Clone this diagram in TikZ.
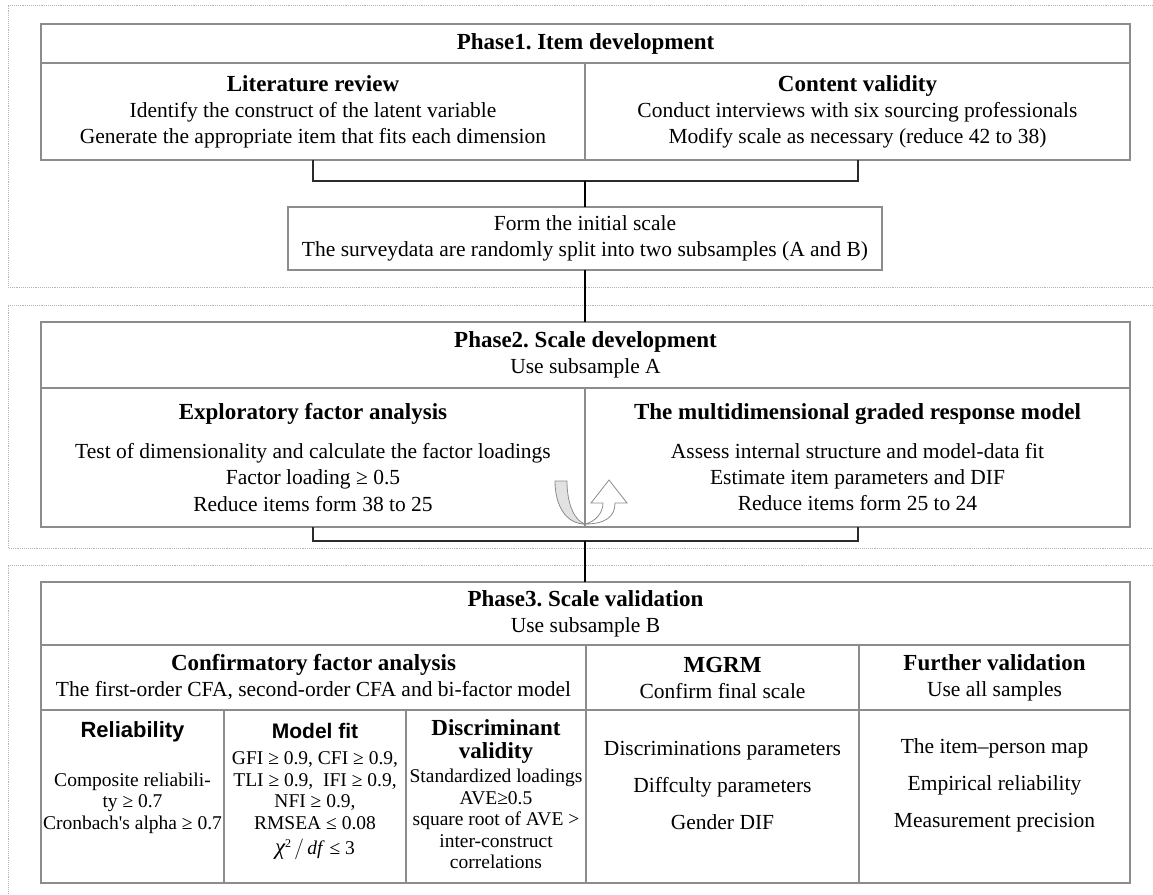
\documentclass[tikz,border=0pt]{standalone}
\usepackage{fontspec}
\setmainfont{Liberation Serif}
\newfontfamily\arialfont{Liberation Sans}
\usetikzlibrary{positioning,calc}
\definecolor{frameGray}{HTML}{8C8C8C}
\definecolor{panelGray}{HTML}{B4B4B4}
\definecolor{linkInk}{HTML}{2B2B2B}
\definecolor{arrowFill}{HTML}{E2E2E2}
\newcommand{\cellhead}[1]{{\fontsize{23}{26}\selectfont\bfseries #1}}

\begin{document}
\frenchspacing
\begin{tikzpicture}[x=1pt,y=-1pt,node distance=0pt,font=\fontsize{21.5}{26}\selectfont]
    \tikzset{cell/.style={draw=frameGray,line width=1.3pt,outer sep=0pt,inner sep=0pt,align=center},
      panel/.style={draw=panelGray,line width=0.9pt,densely dotted},
      link/.style={draw=linkInk,line width=2pt},
      conn/.style={draw=black,line width=1.4pt},
      subtext/.style={font=\fontsize{19.5}{21.5}\selectfont,align=center,inner sep=0pt}}
    \useasboundingbox (0,0) rectangle (1153,894);
    \clip (0,0) rectangle (1153,894);
    % dotted phase panels
    \draw[panel] (1170,5) -| (8,287) -- (1170,287);
    \draw[panel] (1170,305) -| (8,548) -- (1170,548);
    \draw[panel] (1170,565) -| (8,910);
    % phase 1
    \node[cell,anchor=north west,minimum width=1089,minimum height=39] (p1) at (41,24) {\cellhead{Phase1. Item development}};
    \node[cell,anchor=north west,minimum width=544,minimum height=97] (lit) at (p1.south west)
      {\cellhead{Literature review}\\Identify the construct of the latent variable\\Generate the appropriate item that fits each dimension};
    \node[cell,minimum width=545,minimum height=97,right=of lit] (cont)
      {\cellhead{Content validity}\\Conduct interviews with six sourcing professionals\\Modify scale as necessary (reduce 42 to 38)};
    \coordinate (split1) at ($(lit.south east)+(0,21)$);
    \node[cell,minimum width=594,minimum height=63,anchor=north] (init) at ($(lit.south east)+(0,47)$)
      {Form the initial scale\\The surveydata are randomly split into two subsamples (A and B)};
    \draw[link] (lit.south) |- (split1) -| (cont.south);
    \draw[conn] (split1) -- (init.north);
    % phase 2
    \node[cell,anchor=north west,minimum width=1089,minimum height=66] (p2) at (41,322)
      {\cellhead{Phase2. Scale development}\\Use subsample A};
    \draw[conn] (init.south) -- (init.south |- p2.north);
    \node[cell,anchor=north west,minimum width=544,minimum height=139] (efa) at (p2.south west)
      {\cellhead{Exploratory factor analysis}\\[13pt]Test of dimensionality and calculate the factor loadings\\Factor loading ≥ 0.5\\Reduce items form 38 to 25};
    \node[cell,minimum width=545,minimum height=139,right=of efa] (grm)
      {\cellhead{The multidimensional graded response model}\\[13pt]Assess internal structure and model-data fit\\Estimate item parameters and DIF\\Reduce items form 25 to 24};
    \begin{scope}[shift={(efa.south east)},draw=frameGray,line width=0.8pt]
      \draw[fill=arrowFill] (-30,-46) -- (-18,-46) .. controls (-18,-22) and (-10,-6) .. (0,-3)
        .. controls (-18,-3) and (-30,-20) .. (-30,-46) -- cycle;
      \draw[fill=white] (0,-3) .. controls (20,-3) and (30,-10) .. (30,-24) -- (42,-24) -- (24,-47)
        -- (6,-24) -- (18,-24) .. controls (18,-14) and (10,-5) .. (0,-3) -- cycle;
    \end{scope}
    \coordinate (split2) at ($(efa.south east)+(0,14)$);
    \draw[link] (efa.south) |- (split2) -| (grm.south);
    % phase 3
    \node[cell,anchor=north west,minimum width=1089,minimum height=63] (p3) at (41,582)
      {\cellhead{Phase3. Scale validation}\\Use subsample B};
    \draw[conn] (split2) -- (split2 |- p3.north);
    \node[cell,anchor=north west,minimum width=545,minimum height=65] (cfa) at (p3.south west)
      {\cellhead{Confirmatory factor analysis}\\The first-order CFA, second-order CFA and bi-factor model};
    \node[cell,minimum width=273,minimum height=65,right=of cfa] (mgrm)
      {\cellhead{MGRM}\\Confirm final scale};
    \node[cell,minimum width=271,minimum height=65,right=of mgrm] (further)
      {\cellhead{Further validation}\\Use all samples};
    \node[cell,anchor=north west,minimum width=183,minimum height=173] (rel) at (cfa.south west) {};
    \node[cell,minimum width=182,minimum height=173,right=of rel] (fit) {};
    \node[cell,minimum width=180,minimum height=173,right=of fit] (disc) {};
    \node[cell,minimum width=273,minimum height=173,below=of mgrm] (mgrmbody) {};
    \node[cell,minimum width=271,minimum height=173,below=of further] (furtherbody) {};
    % texts of the lower cells
    \node[font=\arialfont\bfseries\fontsize{22}{26}\selectfont] (relhead) at ($(rel.north)+(0,22)$) {Reliability};
    \node[subtext] (reltext) at ($(rel.north)+(0,93)$) {Composite reliabili-\\ty ≥ 0.7\\Cronbach\textquotesingle s alpha ≥ 0.7};
    \node[font=\arialfont\bfseries\fontsize{21}{26}\selectfont] (fithead) at ($(fit.north)+(0,21)$) {Model fit};
    \node[subtext] (fittext) at ($(fit.north)+(0,96)$)
      {GFI ≥ 0.9, CFI ≥ 0.9,\\TLI ≥ 0.9,\ \ IFI ≥ 0.9,\\NFI ≥ 0.9,\\RMSEA ≤ 0.08\\[4pt]{\fontsize{23}{23}\selectfont\itshape χ}\raisebox{7pt}{\fontsize{12}{12}\selectfont 2}\,$\big/$\,\textit{df} ≤ 3};
    \node[align=center,inner sep=0pt,font=\fontsize{23}{23}\selectfont\bfseries] (dischead) at ($(disc.north)+(0,31)$) {Discriminant\\validity};
    \node[subtext] (disctext) at ($(disc.north)+(0,109)$)
      {Standardized loadings\\AVE≥0.5\\square root of AVE >\\inter-construct\\correlations};
    \node[align=center,inner sep=0pt,font=\fontsize{21.5}{37}\selectfont] (mgrmtext) at ($(mgrmbody.north)+(0,75)$)
      {Discriminations parameters\\Diffculty parameters\\Gender DIF};
    \node[align=center,inner sep=0pt,font=\fontsize{21.5}{37}\selectfont] (furthertext) at ($(furtherbody.north)+(0,75)$)
      {The item–person map\\Empirical reliability\\Measurement precision};
  \end{tikzpicture}
\end{document}
